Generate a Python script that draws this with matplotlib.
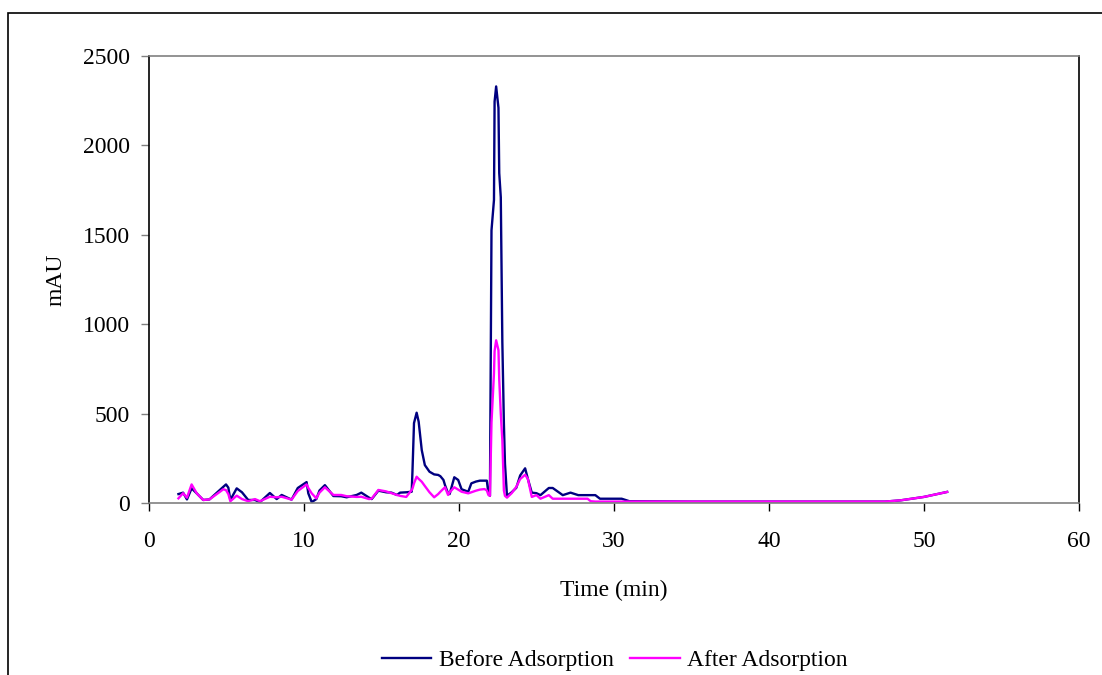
import numpy as np
import matplotlib
matplotlib.use("Agg")
import matplotlib.pyplot as plt
from matplotlib.patches import Rectangle

# retention time (min) and detector response (mAU)
time = [1.9, 2.2, 2.45, 2.75, 3.08, 3.5, 3.9, 4.8, 4.97, 5.12, 5.25, 5.66, 6.0,
        6.4, 6.84, 7.16, 7.8, 8.24, 8.56, 9.2, 9.6, 10.17, 10.28, 10.5, 10.8,
        11.0, 11.35, 11.9, 12.4, 12.75, 13.4, 13.7, 14.2, 14.37, 14.8, 15.3,
        15.65, 16.0, 16.2, 16.6, 16.95, 17.0, 17.1, 17.27, 17.4, 17.6, 17.8,
        18.1, 18.4, 18.66, 18.8, 19.0, 19.1, 19.3, 19.4, 19.7, 19.95, 20.17,
        20.6, 20.8, 21.1, 21.35, 21.65, 21.8, 21.9, 22.0, 22.1, 22.26, 22.3,
        22.4, 22.55, 22.6, 22.7, 22.8, 22.9, 22.97, 23.1, 23.4, 23.7, 23.95,
        24.27, 24.45, 24.7, 25.0, 25.26, 25.8, 26.05, 26.7, 27.2, 27.7, 28.3,
        28.5, 28.8, 29.1, 30.5, 31.0, 35.0, 40.0, 45.0, 47.5, 48.5, 50.0, 51.5]
before = [50, 58, 20, 82, 54, 17, 20, 91, 104, 86, 17, 82, 60,
          17, 17, 5, 56, 22, 45, 19, 84, 117, 54, 5, 22,
          70, 100, 39, 38, 32, 45, 58, 30, 22, 69, 60,
          58, 45, 58, 60, 63, 175, 447, 505, 455, 296, 212,
          175, 160, 157, 150, 129, 100, 54, 50, 144, 129, 77,
          63, 110, 120, 125, 125, 125, 54, 40, 1525, 1695, 2245,
          2330, 2210, 1845, 1710, 900, 445, 220, 40, 60, 85, 154,
          194, 134, 58, 55, 44, 84, 84, 44, 58, 44, 44,
          44, 44, 24, 24, 10, 8, 8, 8, 8, 15, 34, 62]
after = [26, 55, 30, 104, 54, 17, 20, 77, 72, 50, 10, 41, 22,
         10, 22, 10, 35, 32, 35, 19, 67, 104, 84, 54, 26,
         58, 88, 45, 45, 38, 34, 35, 22, 25, 73, 65,
         55, 45, 40, 34, 73, 80, 110, 147, 135, 119, 95,
         60, 32, 50, 63, 80, 88, 45, 60, 88, 75, 63,
         54, 60, 69, 75, 78, 70, 45, 40, 450, 725, 850,
         910, 855, 690, 500, 350, 70, 40, 30, 55, 90, 134,
         158, 134, 34, 44, 24, 44, 24, 24, 24, 24, 24,
         10, 8, 8, 8, 8, 8, 8, 8, 8, 15, 34, 62]

plt.rcParams['font.family'] = ['Liberation Serif', 'DejaVu Serif']

fig = plt.figure(figsize=(11.02, 6.75), dpi=100)
ax = fig.add_axes([0.1352, 0.2548, 0.979 - 0.1352, 0.917 - 0.2548])

ax.plot(time, before, color="#000080", linewidth=1.7, label="Before Adsorption")
ax.plot(time, after, color="#FF00FF", linewidth=1.7, label="After Adsorption")

ax.set_xlim(0, 60)
ax.set_ylim(0, 2500)
ax.set_xticks(np.arange(0, 61, 10))
ax.set_yticks(np.arange(0, 2501, 500))
ax.tick_params(axis="both", labelsize=17, direction="out")
ax.tick_params(axis="y", length=5.8, width=1, color="#808080", pad=8)
ax.tick_params(axis="x", length=5.5, width=1, color="black", pad=15)

ax.spines["top"].set_color("#808080")
ax.spines["bottom"].set_color("#808080")
ax.spines["left"].set_color("black")
ax.spines["right"].set_color("black")
for s in ax.spines.values():
    s.set_linewidth(1.2)

ax.set_xlabel("Time (min)", fontsize=17, labelpad=20)
ax.set_ylabel("mAU", fontsize=17, labelpad=12)

fig.legend(loc="center", bbox_to_anchor=(0.5576, 0.022), ncol=2, frameon=False,
           fontsize=17, handlelength=2.1, columnspacing=0.7, handletextpad=0.3)

# outer chart frame
fig.patches.append(Rectangle((8 / 1102, -0.05), 1.1, 0.9807 + 0.05,
                             transform=fig.transFigure, fill=False,
                             edgecolor="black", linewidth=1.2))

fig.savefig("out.png", dpi=100)
